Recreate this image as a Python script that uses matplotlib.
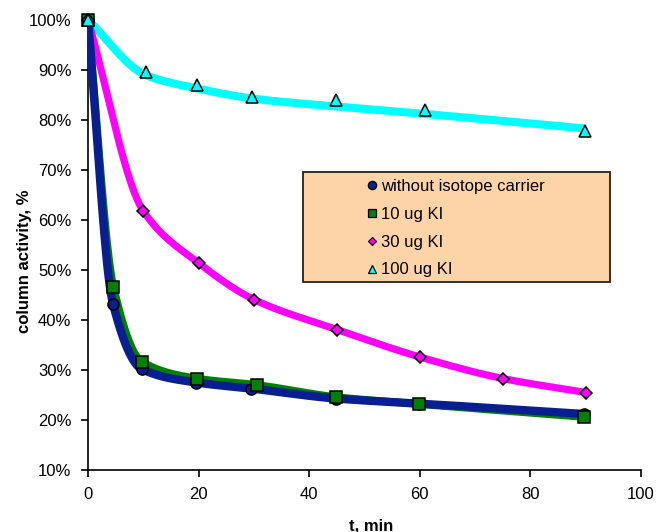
import numpy as np
import matplotlib
matplotlib.use("Agg")
import matplotlib.pyplot as plt
from matplotlib.patches import Rectangle

plt.rcParams['font.family'] = ['Liberation Sans', 'DejaVu Sans']

# data (t in min, activity in %)
t_none = [0, 4.5, 9.7, 19.6, 29.5, 44.8, 59.8, 89.7]
a_none = [100, 43.3, 30.2, 27.5, 26.3, 24.3, 23.3, 21.2]

t_10 = [0, 4.6, 9.7, 19.7, 30.6, 44.8, 59.8, 89.7]
a_10 = [100, 46.6, 31.7, 28.3, 27.0, 24.6, 23.2, 20.6]

t_30 = [0, 10, 20, 30, 45, 60, 75, 90]
a_30 = [100, 61.8, 51.4, 44.1, 38.1, 32.6, 28.3, 25.5]

t_100 = [0, 10.4, 19.8, 29.7, 44.8, 61, 89.9]
a_100 = [100, 89.6, 87.0, 84.6, 84.0, 82.0, 77.8]
# the drawn trend curve for 100 ug sits a bit under the points
fit_100 = [100, 89.0, 86.3, 84.3, 82.7, 81.2, 78.3]

labels = ["without isotope carrier", "10 ug KI", "30 ug KI", "100 ug KI"]


def smooth(x, y, n=400):
    # monotone cubic (Fritsch-Carlson) through the points
    x = np.asarray(x, float)
    y = np.asarray(y, float)
    h = np.diff(x)
    d = np.diff(y) / h
    m = np.zeros_like(y)
    m[0], m[-1] = d[0], d[-1]
    for k in range(1, len(x) - 1):
        if d[k - 1] * d[k] <= 0:
            m[k] = 0
        else:
            w1 = 2 * h[k] + h[k - 1]
            w2 = h[k] + 2 * h[k - 1]
            m[k] = (w1 + w2) / (w1 / d[k - 1] + w2 / d[k])
    xs = np.linspace(x[0], x[-1], n)
    idx = np.clip(np.searchsorted(x, xs) - 1, 0, len(x) - 2)
    hh = h[idx]
    s = (xs - x[idx]) / hh
    h00 = 2 * s**3 - 3 * s**2 + 1
    h10 = s**3 - 2 * s**2 + s
    h01 = -2 * s**3 + 3 * s**2
    h11 = s**3 - s**2
    ys = h00 * y[idx] + h10 * hh * m[idx] + h01 * y[idx + 1] + h11 * hh * m[idx + 1]
    return xs, ys


fig = plt.figure(figsize=(6.59, 5.32), dpi=100)
ax = fig.add_axes([88 / 659, 62 / 532, 553 / 659, 450 / 532])

c_none, c_10, c_30, c_100 = "#0a1f8f", "#008000", "#ff00ff", "#00ffff"

# lines first
ax.plot(*smooth(t_100, fit_100), color=c_100, lw=5.8, solid_capstyle="butt", zorder=2)
ax.plot(*smooth(t_30, a_30), color=c_30, lw=5.2, solid_capstyle="butt", zorder=2)
ax.plot(*smooth(t_10, a_10), color=c_10, lw=5.5, solid_capstyle="butt", zorder=2)
ax.plot(*smooth(t_none, a_none), color=c_none, lw=6.0, solid_capstyle="butt", zorder=3)

# markers
mk = dict(ls="none", mec="black", mew=1.1, clip_on=False, zorder=5)
ax.plot(t_none, a_none, marker="o", ms=8, mfc=c_none, **mk)
ax.plot(t_10, a_10, marker="s", ms=8, mfc=c_10, **mk)
ax.plot(t_30, a_30, marker="D", ms=6.5, mfc=c_30, **mk)
ax.plot(t_100, a_100, marker="^", ms=9, mfc=c_100, **mk)

ax.set_xlim(0, 100)
ax.set_ylim(10, 100)
ax.set_xticks(np.arange(0, 101, 20))
ax.set_yticks(np.arange(10, 101, 10))
ax.set_yticklabels([f"{v}%" for v in range(10, 101, 10)])
ax.tick_params(direction="out", length=5, width=1.2, labelsize=12, pad=7)
for side in ["top", "right"]:
    ax.spines[side].set_visible(False)
for side in ["left", "bottom"]:
    ax.spines[side].set_linewidth(1.2)

ax.set_xlabel("t, min", fontsize=12, fontweight="bold")
ax.xaxis.set_label_coords(0.512, -0.107)
ax.set_ylabel("column activity, %", fontsize=12, fontweight="bold")
ax.yaxis.set_label_coords(-0.101, 0.463)

# legend box
box = Rectangle((0.389, 0.418), 0.555, 0.245, transform=ax.transAxes,
                facecolor="#fdd4a8", edgecolor="#222222", lw=1.3, zorder=6)
ax.add_patch(box)

lk = dict(ls="none", mec="black", mew=0.9)
handles = [
    plt.Line2D([], [], marker="o", ms=6, mfc=c_none, **lk),
    plt.Line2D([], [], marker="s", ms=5.5, mfc=c_10, **lk),
    plt.Line2D([], [], marker="D", ms=4.5, mfc=c_30, **lk),
    plt.Line2D([], [], marker="^", ms=6, mfc=c_100, **lk),
]
leg = ax.legend(handles, labels, loc="upper left", bbox_to_anchor=(0.505, 0.647),
                frameon=False, fontsize=12, handlelength=0.6, handletextpad=0.25,
                labelspacing=0.77, borderpad=0, borderaxespad=0)
leg.set_zorder(7)

fig.savefig("out.png", dpi=100)
